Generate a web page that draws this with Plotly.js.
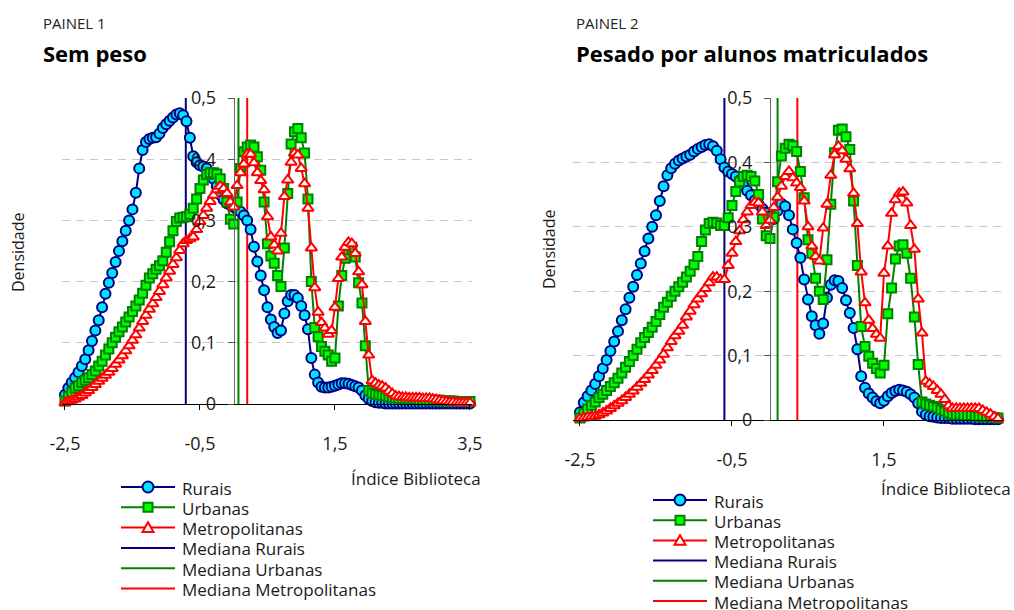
<!DOCTYPE html>
<html>
<head>
<meta charset="utf-8">
<script src="https://cdn.plot.ly/plotly-3.0.1.min.js"></script>
<style>
  html, body { margin: 0; padding: 0; background: #ffffff; }
  #chart { width: 1014px; height: 610px; }
</style>
</head>
<body>
<div id="chart"></div>
<script>
// Densidade do Índice Biblioteca por tipo de localidade.
// Curvas amostradas numa grelha regular que começa em gridStart com passo gridStep.
const gridStart = -2.5;
const gridStep = 0.05;

const seriesNames = ['Rurais', 'Urbanas', 'Metropolitanas'];
const medianNames = ['Mediana Rurais', 'Mediana Urbanas', 'Mediana Metropolitanas'];

// Painel 1: sem peso (de -2,5 a 3,5)
const rurais1 = [
  0.015,0.026,0.035,0.043,0.052,0.062,0.073,0.088,0.103,0.120,
  0.137,0.158,0.180,0.198,0.214,0.232,0.250,0.266,0.283,0.300,
  0.318,0.345,0.385,0.415,0.428,0.433,0.435,0.436,0.442,0.451,
  0.457,0.463,0.468,0.473,0.475,0.472,0.462,0.435,0.405,0.395,
  0.390,0.388,0.385,0.378,0.368,0.356,0.342,0.334,0.328,0.325,
  0.322,0.318,0.314,0.308,0.300,0.285,0.257,0.233,0.210,0.186,
  0.158,0.138,0.126,0.116,0.120,0.148,0.168,0.178,0.178,0.173,
  0.160,0.145,0.122,0.075,0.048,0.035,0.028,0.027,0.027,0.028,
  0.030,0.032,0.034,0.034,0.033,0.031,0.029,0.027,0.022,0.014,
  0.008,0.005,0.003,0.002,0.002,0.001,0.001,0.001,0.001,0.001,
  0.001,0.001,0.001,0.001,0.001,0.001,0.001,0.001,0.001,0.001,
  0.001,0.001,0.001,0.001,0.001,0.001,0.001,0.001,0.001,0.001,
  0.001
];
const urbanas1 = [
  0.005,0.012,0.019,0.026,0.030,0.035,0.039,0.043,0.048,0.054,
  0.062,0.070,0.080,0.090,0.100,0.109,0.118,0.126,0.134,0.142,
  0.151,0.160,0.170,0.181,0.194,0.206,0.213,0.220,0.226,0.234,
  0.248,0.265,0.283,0.298,0.304,0.305,0.306,0.310,0.320,0.335,
  0.352,0.366,0.375,0.378,0.378,0.376,0.368,0.352,0.330,0.302,
  0.294,0.330,0.385,0.412,0.420,0.423,0.420,0.404,0.382,0.330,
  0.262,0.242,0.230,0.210,0.192,0.255,0.344,0.425,0.445,0.450,
  0.435,0.410,0.335,0.200,0.125,0.110,0.094,0.086,0.080,0.070,
  0.075,0.160,0.210,0.238,0.252,0.256,0.240,0.198,0.165,0.095,
  0.022,0.018,0.016,0.015,0.014,0.013,0.012,0.011,0.010,0.009,
  0.009,0.009,0.008,0.008,0.008,0.007,0.007,0.007,0.006,0.006,
  0.006,0.006,0.005,0.005,0.005,0.005,0.004,0.004,0.004,0.004,
  0.004
];
const metropolitanas1 = [
  0.002,0.004,0.006,0.008,0.011,0.014,0.018,0.022,0.027,0.032,
  0.037,0.042,0.047,0.052,0.058,0.065,0.072,0.079,0.087,0.095,
  0.104,0.113,0.124,0.135,0.145,0.155,0.164,0.174,0.184,0.195,
  0.206,0.217,0.228,0.239,0.251,0.262,0.267,0.270,0.273,0.285,
  0.298,0.308,0.320,0.331,0.341,0.350,0.356,0.352,0.344,0.330,
  0.322,0.357,0.378,0.392,0.408,0.408,0.394,0.378,0.365,0.350,
  0.306,0.273,0.260,0.250,0.279,0.339,0.366,0.395,0.410,0.407,
  0.385,0.360,0.320,0.255,0.190,0.150,0.133,0.124,0.114,0.120,
  0.158,0.205,0.240,0.256,0.264,0.262,0.246,0.216,0.195,0.135,
  0.080,0.038,0.034,0.031,0.029,0.026,0.021,0.017,0.013,0.012,
  0.011,0.011,0.010,0.010,0.010,0.010,0.009,0.009,0.009,0.008,
  0.007,0.006,0.005,0.004,0.003,0.003,0.002,0.002,0.002,0.002,
  0.002
];
const medianas1 = [-0.71, 0.07, 0.20];

// Painel 2: pesado por alunos matriculados (de -2,5 a 3,0)
const rurais2 = [
  0.012,0.027,0.037,0.046,0.056,0.068,0.080,0.093,0.107,0.122,
  0.138,0.155,0.172,0.190,0.207,0.225,0.243,0.262,0.282,0.300,
  0.318,0.340,0.363,0.380,0.391,0.398,0.403,0.406,0.409,0.412,
  0.417,0.421,0.424,0.427,0.428,0.425,0.418,0.405,0.392,0.386,
  0.382,0.378,0.372,0.364,0.356,0.349,0.341,0.335,0.328,0.322,
  0.316,0.312,0.325,0.336,0.332,0.318,0.296,0.275,0.252,0.218,
  0.187,0.161,0.147,0.134,0.150,0.190,0.210,0.217,0.216,0.205,
  0.186,0.166,0.143,0.110,0.068,0.050,0.041,0.035,0.029,0.026,
  0.030,0.037,0.042,0.045,0.047,0.046,0.044,0.040,0.035,0.026,
  0.013,0.008,0.006,0.005,0.004,0.003,0.003,0.003,0.002,0.002,
  0.002,0.002,0.002,0.002,0.001,0.001,0.001,0.001,0.001,0.001,
  0.001
];
const urbanas2 = [
  0.003,0.010,0.017,0.023,0.028,0.035,0.040,0.046,0.052,0.058,
  0.065,0.073,0.082,0.091,0.100,0.110,0.120,0.128,0.136,0.144,
  0.153,0.164,0.175,0.183,0.192,0.200,0.207,0.214,0.222,0.231,
  0.241,0.254,0.277,0.295,0.305,0.307,0.306,0.302,0.302,0.314,
  0.333,0.355,0.370,0.378,0.380,0.378,0.371,0.350,0.312,0.286,
  0.282,0.315,0.370,0.410,0.422,0.428,0.426,0.417,0.386,0.345,
  0.280,0.259,0.220,0.200,0.187,0.249,0.335,0.415,0.450,0.452,
  0.440,0.420,0.340,0.240,0.145,0.114,0.099,0.088,0.080,0.073,
  0.085,0.165,0.205,0.250,0.270,0.272,0.259,0.220,0.160,0.086,
  0.028,0.025,0.023,0.021,0.019,0.016,0.014,0.011,0.009,0.008,
  0.008,0.007,0.007,0.007,0.006,0.006,0.006,0.005,0.005,0.004,
  0.003
];
const metropolitanas2 = [
  0.002,0.003,0.004,0.005,0.006,0.008,0.011,0.014,0.018,0.022,
  0.026,0.030,0.035,0.040,0.045,0.051,0.057,0.063,0.070,0.077,
  0.085,0.093,0.102,0.112,0.122,0.131,0.138,0.147,0.160,0.169,
  0.179,0.188,0.196,0.204,0.213,0.222,0.222,0.218,0.218,0.240,
  0.259,0.277,0.294,0.311,0.323,0.333,0.338,0.337,0.323,0.302,
  0.310,0.330,0.346,0.363,0.378,0.386,0.376,0.368,0.361,0.340,
  0.300,0.270,0.254,0.247,0.298,0.335,0.380,0.412,0.425,0.418,
  0.405,0.390,0.352,0.305,0.230,0.182,0.155,0.142,0.133,0.127,
  0.228,0.270,0.321,0.342,0.352,0.354,0.337,0.302,0.265,0.188,
  0.135,0.060,0.056,0.052,0.046,0.040,0.032,0.022,0.018,0.018,
  0.018,0.018,0.018,0.018,0.018,0.018,0.015,0.012,0.009,0.005,
  0.002
];
const medianas2 = [-0.60, 0.10, 0.36];

const xTickVals = [-2.5, -0.5, 1.5, 3.5];
const xTickLabels = ['-2,5', '-0,5', '1,5', '3,5'];
const densityRange = [0, 0.5];

// ---- estilos ----
const FONT = 'Open Sans, Noto Sans, sans-serif';
const TXT = '#1a1a1a';
const W = 1014, H = 610;
const px = v => v / W;          // pixel horizontal -> fração do papel
const py = v => (H - v) / H;    // pixel vertical -> fração do papel

const styles = [
  { line: '#000080', symbol: 'circle', fill: '#00e5ff', size: 10 },
  { line: '#008000', symbol: 'square', fill: '#00ff00', size: 9 },
  { line: '#ff0000', symbol: 'triangle-up', fill: '#ffffff', size: 10 }
];
const medianColors = ['#000080', '#008000', '#ff0000'];

function panelTraces(curves, medians, xa, ya) {
  const traces = [];
  medians.forEach((m, i) => {
    traces.push({
      type: 'scatter', mode: 'lines',
      x: [m, m], y: densityRange,
      xaxis: xa, yaxis: ya, showlegend: false,
      name: medianNames[i],
      line: { color: medianColors[i], width: 2 },
      hoverinfo: 'skip'
    });
  });
  curves.forEach((ys, i) => {
    const s = styles[i];
    traces.push({
      type: 'scatter', mode: 'lines+markers',
      x0: gridStart, dx: gridStep, y: ys,
      xaxis: xa, yaxis: ya, showlegend: false,
      name: seriesNames[i],
      cliponaxis: false,
      line: { color: s.line, width: 2 },
      marker: { symbol: s.symbol, size: s.size, color: s.fill,
                line: { color: s.line, width: 2 } }
    });
  });
  return traces;
}

const data = [].concat(
  panelTraces([rurais1, urbanas1, metropolitanas1], medianas1, 'x', 'y'),
  panelTraces([rurais2, urbanas2, metropolitanas2], medianas2, 'x2', 'y2')
);

function xAxis(domainPx, range, anchor) {
  return {
    domain: [px(domainPx[0]), px(domainPx[1])],
    range: range, anchor: anchor,
    tickvals: xTickVals, ticktext: xTickLabels,
    ticks: 'outside', ticklen: 5, tickwidth: 1, tickcolor: '#000',
    ticklabelstandoff: 18,
    showline: true, linecolor: '#000', linewidth: 1,
    showgrid: false, zeroline: false,
    tickfont: { family: FONT, size: 18, color: TXT },
    fixedrange: true
  };
}
function yAxis(bottomPx, topPx, posPx) {
  return {
    domain: [py(bottomPx), py(topPx)],
    range: densityRange, anchor: 'free', position: px(posPx),
    dtick: 0.1, tick0: 0,
    ticks: 'outside', ticklen: 6, tickwidth: 1, tickcolor: '#555',
    ticklabelstandoff: 8,
    showline: true, linecolor: '#666', linewidth: 1,
    showgrid: true, gridcolor: '#c8c8c8', gridwidth: 1, griddash: '8px,6px',
    zeroline: false,
    tickfont: { family: FONT, size: 18, color: TXT },
    fixedrange: true
  };
}

function label(text, xPx, yPx, opts) {
  return Object.assign({
    text: text, xref: 'paper', yref: 'paper',
    x: px(xPx), y: py(yPx), xanchor: 'left', yanchor: 'middle',
    showarrow: false, font: { family: FONT, size: 17, color: TXT }
  }, opts || {});
}

const annotations = [
  label('PAINEL 1', 41, 23, { font: { family: FONT, size: 15, color: '#222' } }),
  label('<b>Sem peso</b>', 41, 53, { font: { family: FONT, size: 22, color: '#000' } }),
  label('PAINEL 2', 574, 23, { font: { family: FONT, size: 15, color: '#222' } }),
  label('<b>Pesado por alunos matriculados</b>', 574, 53, { font: { family: FONT, size: 22, color: '#000' } }),
  label('Densidade', 18, 252, { xanchor: 'center', textangle: -90, font: { family: FONT, size: 16, color: TXT } }),
  label('Densidade', 549, 249, { xanchor: 'center', textangle: -90, font: { family: FONT, size: 16, color: TXT } }),
  label('Índice Biblioteca', 483, 478, { xanchor: 'right' }),
  label('Índice Biblioteca', 1013, 488, { xanchor: 'right' })
];
const shapes = [];

// Legenda desenhada com formas e anotações: linha, símbolo e texto por linha.
function drawLegend(x0Px, y0Px, rowGap) {
  const lineLen = 54, textGap = 5;
  const entries = seriesNames.map((n, i) => ({ name: n, color: styles[i].line, style: styles[i] }))
    .concat(medianNames.map((n, i) => ({ name: n, color: medianColors[i], style: null })));
  entries.forEach((e, i) => {
    const yc = y0Px + i * rowGap;
    shapes.push({
      type: 'line', xref: 'paper', yref: 'paper',
      x0: px(x0Px), x1: px(x0Px + lineLen), y0: py(yc), y1: py(yc),
      line: { color: e.color, width: 2 }
    });
    if (e.style) {
      const s = e.style, r = (s.size + 1) / 2;
      const common = {
        xref: 'paper', yref: 'paper', xsizemode: 'pixel', ysizemode: 'pixel',
        xanchor: px(x0Px + lineLen / 2), yanchor: py(yc),
        fillcolor: s.fill, line: { color: s.line, width: 2 }
      };
      if (s.symbol === 'circle') {
        shapes.push(Object.assign({ type: 'circle', x0: -r, x1: r, y0: -r, y1: r }, common));
      } else if (s.symbol === 'square') {
        shapes.push(Object.assign({ type: 'rect', x0: -r + 0.5, x1: r - 0.5, y0: -r + 0.5, y1: r - 0.5 }, common));
      } else {
        shapes.push(Object.assign({ type: 'path',
          path: `M ${-r} ${-r * 0.8} L ${r} ${-r * 0.8} L 0 ${r * 0.95} Z` }, common));
      }
    }
    annotations.push(label(e.name, x0Px + lineLen + textGap, yc + 1));
  });
}
drawLegend(121, 487, 20.3);
drawLegend(653, 500, 20.2);

const layout = {
  width: W, height: H,
  margin: { l: 0, r: 0, t: 0, b: 0, autoexpand: false },
  paper_bgcolor: '#ffffff', plot_bgcolor: 'rgba(0,0,0,0)',
  separators: ', ',
  font: { family: FONT, color: TXT },
  showlegend: false,
  xaxis: xAxis([62, 472], [-2.544, 3.53], 'y'),
  yaxis: yAxis(404, 98, 233.75),
  xaxis2: xAxis([573, 1003], [-2.592, 3.066], 'y2'),
  yaxis2: yAxis(420, 98, 770),
  annotations: annotations,
  shapes: shapes
};

Plotly.newPlot('chart', data, layout, { displayModeBar: false, staticPlot: true });
</script>
</body>
</html>
